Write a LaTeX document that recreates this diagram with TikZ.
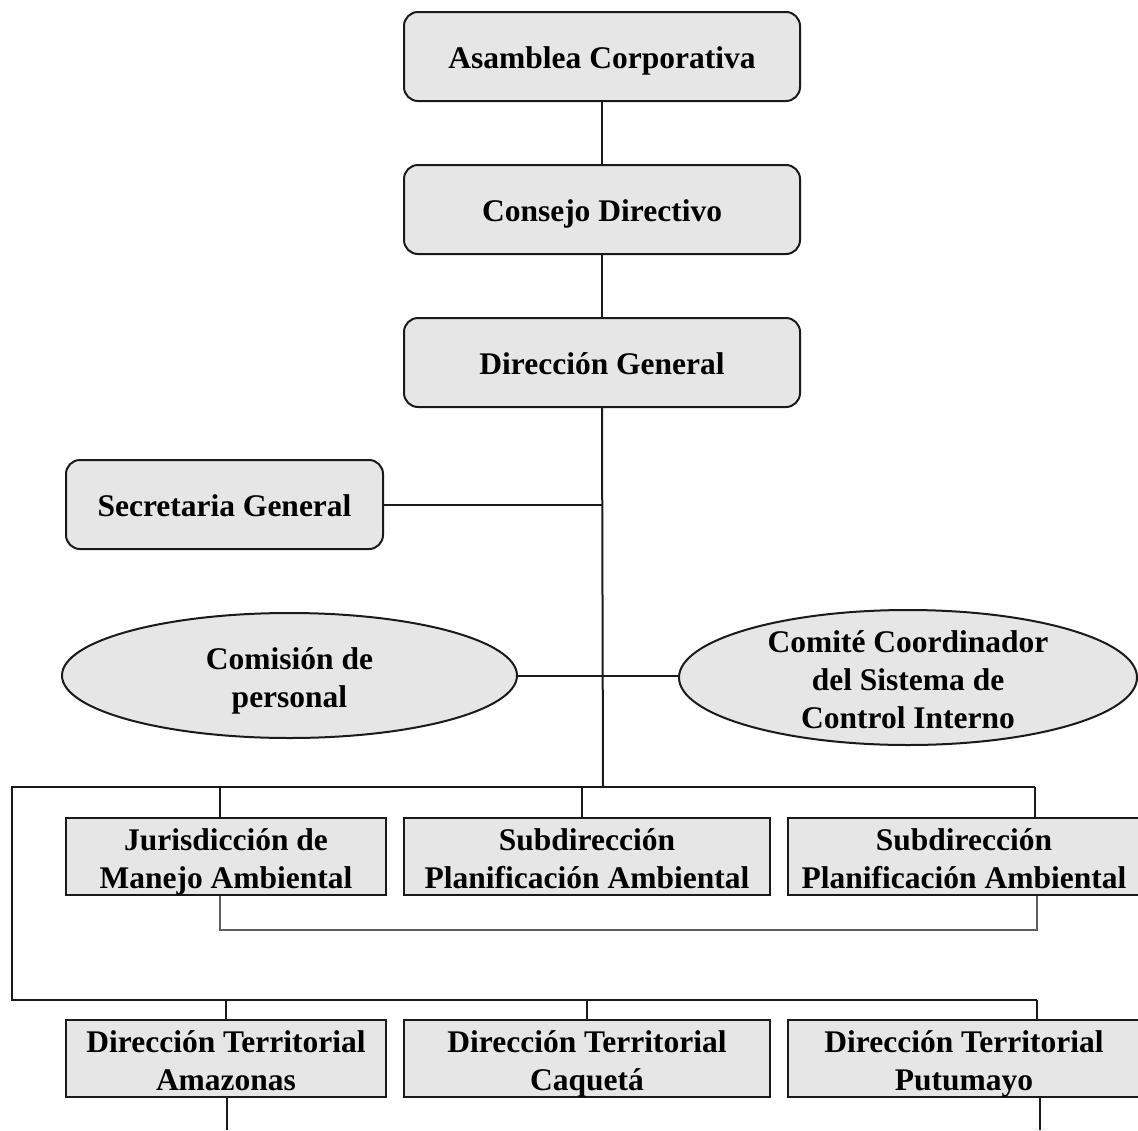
\documentclass[tikz,border=0pt]{standalone}
\usepackage{fontspec}
\setmainfont{Liberation Serif}
\usetikzlibrary{shapes.geometric,calc}
\definecolor{boxfill}{HTML}{E6E6E6}
\definecolor{edge}{HTML}{1A1A1A}
\newcommand{\topst}{\rule{0pt}{38pt}}
\begin{document}
\begin{tikzpicture}[x=1pt,y=-1pt,
  base/.style={draw=edge,line width=2pt,fill=boxfill,inner xsep=0pt,align=center,
    font=\bfseries\fontsize{31.5}{38}\selectfont},
  rbox/.style={base,rectangle,rounded corners=14pt,minimum width=396pt,minimum height=89pt,
    inner ysep=0pt,text height=24pt,text depth=0pt},
  sbox/.style={base,rectangle,minimum height=77pt,inner ysep=-8pt},
  ell/.style={base,ellipse,inner ysep=-18pt},
  conn/.style={draw=edge,line width=2pt},
  thinconn/.style={draw=edge!70,line width=1.6pt}]
\useasboundingbox (0,0) rectangle (1138,1130);

% top chain
\node[rbox] (asam) at (602,56.5) {Asamblea Corporativa};
\node[rbox] (cons) at (602,209.5) {Consejo Directivo};
\node[rbox] (dg)   at (602,362.5) {Dirección General};
\node[rbox,minimum width=317pt] (sec) at (224.5,504.5) {Secretaria General};

% ellipses
\node[ell,minimum width=455pt,minimum height=125pt] (com) at (289.5,675.5)
  {\topst Comisión de\\personal\strut};
\node[ell,minimum width=458pt,minimum height=135pt] (cci) at (908,677.5)
  {\topst Comité Coordinador\\del Sistema de\\Control Interno\strut};

% row 1
\node[sbox,minimum width=320pt] (jur) at (226,856.5) {\topst Jurisdicción de\\Manejo Ambiental\strut};
\node[sbox,minimum width=366pt] (sp1) at (587,856.5) {\topst Subdirección\\Planificación Ambiental\strut};
\node[sbox,minimum width=352pt] (sp2) at (964,856.5) {\topst Subdirección\\Planificación Ambiental\strut};

% row 2
\node[sbox,minimum width=320pt] (dta) at (226,1058.5) {\topst Dirección Territorial\\Amazonas\strut};
\node[sbox,minimum width=366pt] (dtc) at (587,1058.5) {\topst Dirección Territorial\\Caquetá\strut};
\node[sbox,minimum width=352pt] (dtp) at (964,1058.5) {\topst Dirección Territorial\\Putumayo\strut};

% coordinates
\coordinate (bus)   at (603,787);
\coordinate (busL)  at (12,787);
\coordinate (busR)  at (1035,787);
\coordinate (busL2) at (12,1000);
\coordinate (busR2) at (1037,1000);
\coordinate (low1)  at (220,930);
\coordinate (low2)  at (1037,930);
\coordinate (endA)  at (227,1130);
\coordinate (endP)  at (1040,1130);

% connectors
\draw[conn] (asam.south) -- (cons.north);
\draw[conn] (cons.south) -- (dg.north);
\draw[conn] (dg.south) -- (bus);
\draw[conn] (sec.east) -- (sec.east -| dg.south);
\draw[conn] (com.east) -- (com.east -| cci.west);
\draw[conn] (busR) -- (busL) -- (busL2) -- (busR2);
\draw[conn] ([xshift=-6pt]jur.north |- bus) -- ([xshift=-6pt]jur.north);
\draw[conn] ([xshift=-5pt]sp1.north |- bus) -- ([xshift=-5pt]sp1.north);
\draw[conn] (busR) -- (busR |- sp2.north);
\draw[thinconn] ([xshift=-6pt]jur.south) -- (low1) -- (low2) -- (low2 |- sp2.south);
\draw[conn] (dta.north |- busL2) -- (dta.north);
\draw[conn] (dtc.north |- busL2) -- (dtc.north);
\draw[conn] (busR2) -- (busR2 |- dtp.north);
\draw[conn] (endA |- dta.south) -- (endA);
\draw[conn] (endP |- dtp.south) -- (endP);
\end{tikzpicture}
\end{document}
